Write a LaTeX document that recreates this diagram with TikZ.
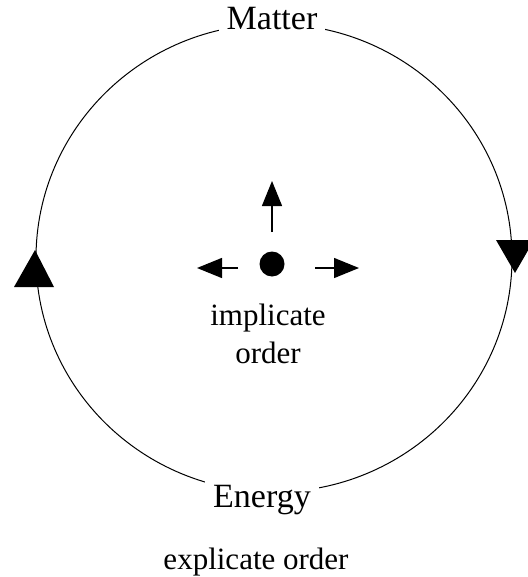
\documentclass[tikz,border=0pt]{standalone}
\usepackage{fontspec}
\setmainfont{Liberation Serif}
\usetikzlibrary{arrows.meta}
\tikzset{
  label text/.style={font=\fontsize{15.5}{19}\selectfont, inner sep=0pt},
  gap label/.style={label text, font=\fontsize{17}{20}\selectfont, fill=white, inner xsep=4pt, inner ysep=3pt},
  out arrow/.style={line width=0.65pt, -{Triangle[length=12.5pt, width=10pt]}}
}
\begin{document}
\begin{tikzpicture}[x=0.5pt,y=-0.5pt]
        \useasboundingbox (0, 0) rectangle (527, 577);
        \draw[line width=0.5pt] (274, 258) ellipse [x radius=238, y radius=234];
        \fill (35, 250) -- (14, 287) -- (54, 287) -- cycle;
        \fill (515, 273) -- (496, 240) -- (534, 240) -- cycle;
        \node[gap label, anchor=base] (matter) at (272, 30) {Matter};
        \node[gap label, anchor=base] (energy) at (262, 507) {Energy};
        \node[label text, anchor=base] (explicate) at (256, 569) {explicate order};
        \node[circle, fill, inner sep=0pt, minimum size=12.5pt] (dot) at (272, 264) {};
        \coordinate (upfoot) at (272, 232);
        \coordinate (uptip) at (272, 181);
        \coordinate (leftfoot) at (238, 268);
        \coordinate (lefttip) at (197, 268);
        \coordinate (rightfoot) at (315, 268);
        \coordinate (righttip) at (359, 268);
        \draw[out arrow] (upfoot) -- (uptip);
        \draw[out arrow] (leftfoot) -- (lefttip);
        \draw[out arrow] (rightfoot) -- (righttip);
        \node[label text, align=center, anchor=base] (implicate) at (268, 363) {implicate\\order};
      \end{tikzpicture}
\end{document}
